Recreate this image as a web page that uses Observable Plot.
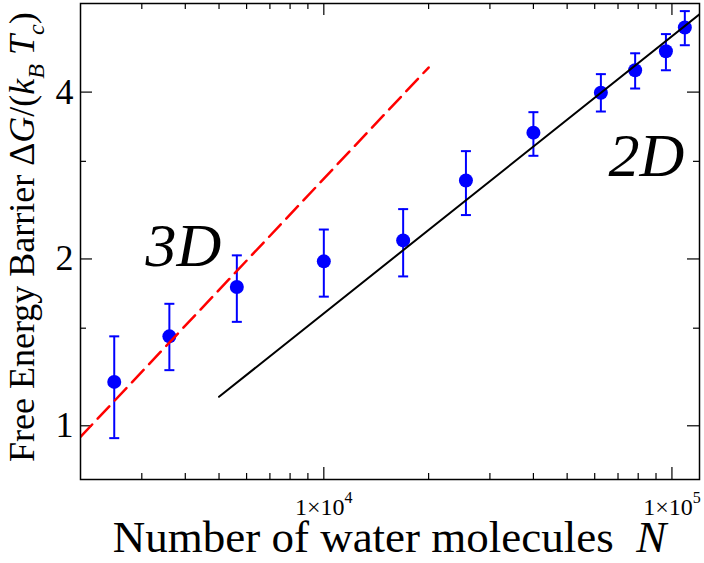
<!DOCTYPE html>
<html>
<head>
<meta charset="utf-8">
<script src="https://cdn.jsdelivr.net/npm/d3@7"></script>
<script src="https://cdn.jsdelivr.net/npm/@observablehq/plot@0.6"></script>
<style>
  html, body { margin: 0; padding: 0; background: #fff; overflow: hidden; }
</style>
</head>
<body>
<div id="chart"></div>
<script>
// Cluster size N (number of water molecules) and free-energy barrier ΔG/(k_B T_c)
const sizes       = [2500, 3600, 5625, 10000, 16900, 25600, 40000, 62500, 78400, 96100, 108900];
const barrier     = [1.20, 1.45, 1.78, 1.98, 2.16, 2.77, 3.38, 3.99, 4.38, 4.74, 5.23];
const barrierHigh = [1.45, 1.66, 2.03, 2.26, 2.46, 3.13, 3.68, 4.31, 4.70, 5.09, 5.60];
const barrierLow  = [0.95, 1.26, 1.54, 1.71, 1.86, 2.40, 3.07, 3.69, 4.06, 4.38, 4.86];

// Power-law guides: 3D scaling (~N^(2/3)) and 2D scaling (~N^(1/2))
const guide3DN = [2000, 20000];
const guide3DG = [0.955, 4.43];
const guide2DN = [5000, 120000];
const guide2DG = [1.128, 5.526];

// Axis ticks
const xMajor = [1e4, 1e5];
const xMinor = [3000, 4000, 5000, 6000, 7000, 8000, 9000,
                20000, 30000, 40000, 50000, 60000, 70000, 80000, 90000];
const yMajor = [1, 2, 4];
const yMinor = [1.5, 3];

// Regime annotations
const regimeLabels = ["3D", "2D"];
const regimeN = [3074, 65750];
const regimeG = [1.946, 2.828];

const points = sizes.map((N, i) => ({N, G: barrier[i], hi: barrierHigh[i], lo: barrierLow[i]}));
const guide3D = guide3DN.map((N, i) => ({N, G: guide3DG[i]}));
const guide2D = guide2DN.map((N, i) => ({N, G: guide2DG[i]}));
const regimes = regimeLabels.map((t, i) => ({t, N: regimeN[i], G: regimeG[i]}));

const FONT = "'Liberation Serif', 'Times New Roman', serif";
const W = 704, H = 563;
const mL = 80, mR = 5, mT = 3, mB = 84;
const innerW = W - mL - mR, innerH = H - mT - mB;
const BLUE = "#0000ff";

// Horizontal bar used as the error-bar cap
const capSymbol = {
  draw(ctx, size) {
    const w = Math.sqrt(size / Math.PI);
    ctx.moveTo(-w, 0);
    ctx.lineTo(w, 0);
  }
};

const svg = Plot.plot({
  width: W,
  height: H,
  marginLeft: mL,
  marginRight: mR,
  marginTop: mT,
  marginBottom: mB,
  style: {fontFamily: FONT, background: "#fff", overflow: "hidden"},
  x: {type: "log", domain: [2000, 120000], label: null, axis: null},
  y: {type: "log", domain: [0.8, 5.78], label: null},
  marks: [
    // inward ticks on all four sides
    Plot.ruleX(xMajor, {x: d => d, insetTop: innerH - 12, stroke: "black", strokeWidth: 1.2}),
    Plot.ruleX(xMajor, {x: d => d, insetBottom: innerH - 12, stroke: "black", strokeWidth: 1.2}),
    Plot.ruleX(xMinor, {x: d => d, insetTop: innerH - 6, stroke: "black", strokeWidth: 1.2}),
    Plot.ruleX(xMinor, {x: d => d, insetBottom: innerH - 6, stroke: "black", strokeWidth: 1.2}),
    Plot.ruleY(yMajor, {y: d => d, insetRight: innerW - 12, stroke: "black", strokeWidth: 1.2}),
    Plot.ruleY(yMajor, {y: d => d, insetLeft: innerW - 12, stroke: "black", strokeWidth: 1.2}),
    Plot.ruleY(yMinor, {y: d => d, insetRight: innerW - 6, stroke: "black", strokeWidth: 1.2}),
    Plot.ruleY(yMinor, {y: d => d, insetLeft: innerW - 6, stroke: "black", strokeWidth: 1.2}),

    Plot.axisY({anchor: "left", ticks: yMajor, tickSize: 0, tickPadding: 7, fontSize: 36,
                label: null, tickFormat: d => String(d)}),

    // "1×10^k" labels under the decade ticks (exponent raised below)
    Plot.text(xMajor, {x: d => d, frameAnchor: "bottom", dy: 35, lineAnchor: "bottom",
                       textAnchor: "middle", fontSize: 24, fill: "black",
                       text: d => `1×10^${Math.round(Math.log10(d))}`,
                       className: "decade-label"}),

    // simulation data with error bars
    Plot.ruleX(points, {x: "N", y1: "lo", y2: "hi", stroke: BLUE, strokeWidth: 2}),
    Plot.dot(points, {x: "N", y: "hi", r: 5, symbol: capSymbol, stroke: BLUE, strokeWidth: 2, fill: "none"}),
    Plot.dot(points, {x: "N", y: "lo", r: 5, symbol: capSymbol, stroke: BLUE, strokeWidth: 2, fill: "none"}),
    Plot.dot(points, {x: "N", y: "G", r: 7, fill: BLUE, stroke: "none"}),

    // scaling guides
    Plot.line(guide3D, {x: "N", y: "G", stroke: "#ff0000", strokeWidth: 2.5, strokeDasharray: "17,8", clip: true}),
    Plot.line(guide2D, {x: "N", y: "G", stroke: "black", strokeWidth: 2, clip: true}),

    Plot.text(regimes, {x: "N", y: "G", text: "t", textAnchor: "start", lineAnchor: "bottom",
                        fontSize: 62, fontStyle: "italic", fill: "black"}),

    Plot.frame({stroke: "black", strokeWidth: 1.5})
  ]
});

const root = d3.select(svg);

// split "1×10^k" into mantissa and superscript exponent
root.selectAll(".decade-label text").each(function() {
  const t = d3.select(this);
  const [base, exp] = t.text().split("^");
  t.text(base);
  t.append("tspan").attr("dy", -12).attr("font-size", 16).text(exp);
});

// x-axis title
const xt = root.append("text")
  .attr("x", mL + innerW / 2)
  .attr("y", 552)
  .attr("text-anchor", "middle")
  .attr("font-family", FONT)
  .attr("font-size", 45)
  .attr("fill", "black");
xt.append("tspan").text("Number of water molecules\u00a0\u00a0");
xt.append("tspan").attr("font-style", "italic").text("N");

// y-axis title
const yt = root.append("text")
  .attr("transform", "translate(33.5,462) rotate(-90)")
  .attr("text-anchor", "start")
  .attr("font-family", FONT)
  .attr("font-size", 36)
  .attr("fill", "black");
yt.append("tspan").text("Free Energy Barrier Δ");
yt.append("tspan").attr("font-style", "italic").text("G");
yt.append("tspan").text("/(");
yt.append("tspan").attr("font-style", "italic").text("k");
yt.append("tspan").attr("font-style", "italic").attr("font-size", 24).attr("dy", 10).text("B");
yt.append("tspan").attr("font-style", "italic").attr("dy", -10).text("\u00a0T");
yt.append("tspan").attr("font-style", "italic").attr("font-size", 24).attr("dy", 10).text("c");
yt.append("tspan").attr("dy", -10).text(")");

document.getElementById("chart").appendChild(svg);
</script>
</body>
</html>
